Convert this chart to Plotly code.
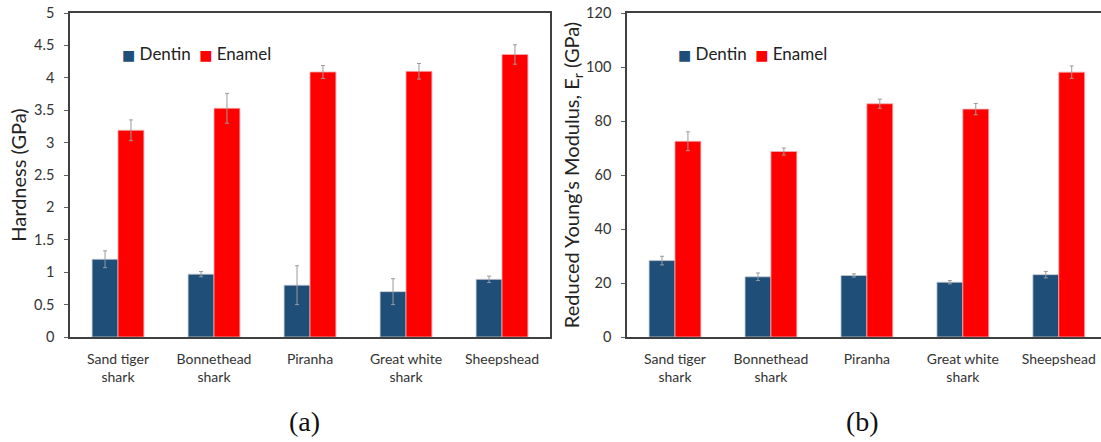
import plotly.graph_objects as go

# Species compared in both panels
species = ["Sand tiger<br>shark", "Bonnethead<br>shark", "Piranha", "Great white<br>shark", "Sheepshead"]

# (a) Nanoindentation hardness, GPa
hardness_dentin = [1.20, 0.97, 0.80, 0.70, 0.89]
hardness_dentin_err = [0.13, 0.04, 0.30, 0.20, 0.05]
hardness_enamel = [3.19, 3.53, 4.09, 4.10, 4.36]
hardness_enamel_err = [0.16, 0.23, 0.10, 0.12, 0.15]

# (b) Reduced Young's modulus, GPa
modulus_dentin = [28.3, 22.3, 22.8, 20.3, 23.1]
modulus_dentin_err = [1.6, 1.4, 0.6, 0.6, 1.2]
modulus_enamel = [72.5, 68.7, 86.4, 84.4, 98.1]
modulus_enamel_err = [3.5, 1.3, 1.7, 2.1, 2.3]

series_names = ["Dentin", "Enamel"]

DENTIN = "#1F4E79"
ENAMEL = "#FF0000"
ERR = "#9a9a9a"
AXIS = "#404040"
FONT = "Lato"

W, H = 1101, 442
TOP, BOTTOM = 13, 337          # plot area, in page pixels
PH = BOTTOM - TOP


def px_x(v):
    return v / W


def px_y(v):
    # page pixel row -> paper fraction of the plot area
    return (BOTTOM - v) / PH


fig = go.Figure()

panels = [
    ("x", "y", hardness_dentin, hardness_dentin_err, hardness_enamel, hardness_enamel_err),
    ("x2", "y2", modulus_dentin, modulus_dentin_err, modulus_enamel, modulus_enamel_err),
]
for xa, ya, d, de, e, ee in panels:
    fig.add_trace(go.Bar(
        x=species, y=d, name=series_names[0], xaxis=xa, yaxis=ya, showlegend=False,
        marker=dict(color=DENTIN, line=dict(color="#c8ccd2", width=0.8)),
        error_y=dict(type="data", array=de, color=ERR, thickness=1, width=2),
    ))
    fig.add_trace(go.Bar(
        x=species, y=e, name=series_names[1], xaxis=xa, yaxis=ya, showlegend=False,
        marker=dict(color=ENAMEL, line=dict(color="#f0b0b0", width=0.8)),
        error_y=dict(type="data", array=ee, color=ERR, thickness=1, width=2),
    ))

tickfont = dict(family=FONT, size=14.5, color="#333333")
titlefont = dict(family=FONT, size=20, color="#222222")

common_x = dict(showline=True, linecolor=AXIS, linewidth=1.5, ticks="", showgrid=False,
                tickfont=dict(family=FONT, size=14, color="#333333"),
                zeroline=False, automargin=False, ticklabelstandoff=8)
common_y = dict(showline=True, linecolor=AXIS, linewidth=1.5, showgrid=False,
                ticks="outside", ticklen=4, tickwidth=1, tickcolor="#606060",
                tickfont=tickfont, zeroline=False, domain=[0, 1], title_font=titlefont,
                automargin=False, ticklabelstandoff=7)


def legend_text(names, colors):
    parts = []
    for n, c in zip(names, colors):
        parts.append(f"<span style='color:{c};font-family:DejaVu Sans;font-size:14px'>\u25A0</span> {n}")
    return "\u2002".join(parts)


legend_font = dict(family=FONT, size=17, color="#222222")
caption_font = dict(family="Liberation Serif", size=28, color="#111111")

fig.update_layout(
    width=W, height=H,
    margin=dict(l=0, r=0, t=TOP, b=H - BOTTOM, autoexpand=False),
    paper_bgcolor="white", plot_bgcolor="white",
    barmode="group", bargap=0.46, bargroupgap=0.0,
    font=dict(family=FONT, color="#333333"),
    xaxis=dict(common_x, domain=[px_x(70), px_x(550)], anchor="y", mirror=True,
               range=[-0.5, 4.5]),
    yaxis=dict(common_y, anchor="x", mirror=True, range=[0, 5], dtick=0.5,
               title=dict(text="Hardness (GPa)", standoff=2)),
    xaxis2=dict(common_x, domain=[px_x(627), 1.0], anchor="y2", mirror=True,
                range=[-0.5, 4.44]),
    yaxis2=dict(common_y, anchor="x2", mirror=False, range=[0, 120], dtick=20,
                title=dict(text="Reduced Young\u2019s Modulus, E<sub>r</sub> (GPa)", standoff=0)),
    annotations=[
        dict(text=legend_text(series_names, [DENTIN, ENAMEL]), x=px_x(120), y=px_y(53),
             xref="paper", yref="paper", xanchor="left", yanchor="middle",
             showarrow=False, font=legend_font),
        dict(text=legend_text(series_names, [DENTIN, ENAMEL]), x=px_x(676), y=px_y(53),
             xref="paper", yref="paper", xanchor="left", yanchor="middle",
             showarrow=False, font=legend_font),
        dict(text="(a)", x=px_x(304), y=px_y(421), xref="paper", yref="paper",
             xanchor="center", yanchor="middle", showarrow=False, font=caption_font),
        dict(text="(b)", x=px_x(862), y=px_y(421), xref="paper", yref="paper",
             xanchor="center", yanchor="middle", showarrow=False, font=caption_font),
    ],
)

fig.write_html("out.html")
